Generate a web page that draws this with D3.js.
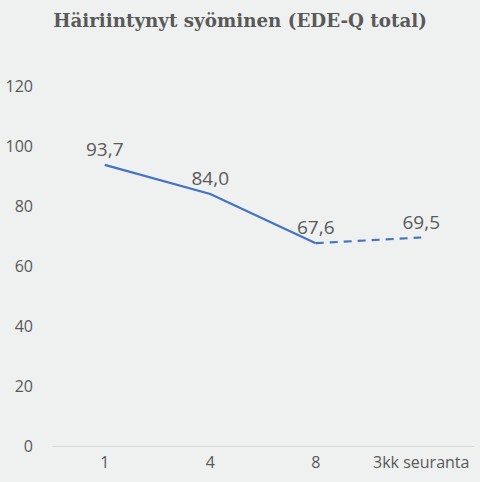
<!DOCTYPE html>
<meta charset="utf-8">
<style>
  body { margin: 0; background: #eef1f0; }
  .tick text { font-family: 'Open Sans', 'Noto Sans', sans-serif; font-size: 16px; fill: #595959; }
</style>
<script src="https://d3js.org/d3.v7.min.js"></script>
<div id="chart"></div>
<script>
// data
var categories = ["1", "4", "8", "3kk seuranta"];
var values = [93.7, 84.0, 67.6, 69.5];
var yTicks = [0, 20, 40, 60, 80, 100, 120];

var W = 480, H = 482;
var margin = {top: 86, right: 6, bottom: 36, left: 52};
var width = W - margin.left - margin.right,
    height = H - margin.top - margin.bottom;

var svg = d3.select("#chart").append("svg")
    .attr("width", W).attr("height", H)
    .style("background", "#eef1f0");

svg.append("text")
  .attr("x", 240).attr("y", 27)
  .attr("text-anchor", "middle")
  .style("font-family", "'DejaVu Serif', 'Liberation Serif', serif")
  .style("font-weight", "bold")
  .style("font-size", "18.3px")
  .style("fill", "#595959")
  .text("Häiriintynyt syöminen (EDE-Q total)");

var g = svg.append("g")
  .attr("transform", "translate(" + margin.left + "," + margin.top + ")");

var x = d3.scaleBand().domain(categories).range([0, width]);
var y = d3.scaleLinear().domain([0, 120]).range([height, 0]);

// y axis labels only
var ya = g.append("g").call(d3.axisLeft(y).tickValues(yTicks).tickSize(0).tickPadding(19));
ya.select(".domain").remove();

// x axis
var xa = g.append("g")
  .attr("transform", "translate(0," + height + ")")
  .call(d3.axisBottom(x).tickSize(0).tickPadding(11));
xa.select(".domain").attr("stroke", "#d9d9d9");

var cx = function (i) { return x(categories[i]) + x.bandwidth() / 2; };

var line = d3.line()
  .x(function (d) { return cx(d.i); })
  .y(function (d) { return y(d.v); });

var pts = values.map(function (v, i) { return {i: i, v: v}; });

g.append("path")
  .datum(pts.slice(0, 3))
  .attr("d", line)
  .attr("fill", "none")
  .attr("stroke", "#4472c4")
  .attr("stroke-width", 2.2);

g.append("path")
  .datum(pts.slice(2, 4))
  .attr("d", line)
  .attr("fill", "none")
  .attr("stroke", "#4472c4")
  .attr("stroke-width", 2.2)
  .attr("stroke-dasharray", "8,6");

// data labels
g.selectAll(".lbl")
  .data(pts)
  .enter().append("text")
  .attr("x", function (d) { return cx(d.i); })
  .attr("y", function (d) { return y(d.v) - 9; })
  .attr("text-anchor", "middle")
  .style("font-family", "'Open Sans', 'Noto Sans', sans-serif")
  .style("font-size", "19px")
  .style("fill", "#595959")
  .text(function (d) { return d.v.toFixed(1).replace(".", ","); });
</script>
